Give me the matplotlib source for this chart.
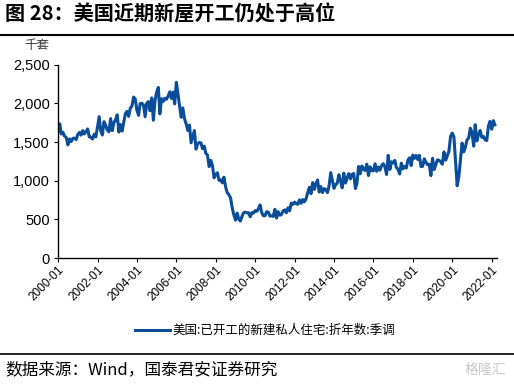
import numpy as np
import pandas as pd
import matplotlib
matplotlib.use("Agg")
import matplotlib.pyplot as plt
import matplotlib.dates as mdates
from matplotlib.lines import Line2D

plt.rcParams['font.family'] = ['Liberation Sans', 'Noto Sans CJK SC', 'DejaVu Sans']

# monthly housing starts, thousand units (SAAR)
starts_2000 = [1636, 1737, 1604, 1626, 1575, 1559, 1463, 1541, 1507, 1549, 1551, 1532]
starts_2001 = [1600, 1625, 1590, 1649, 1605, 1636, 1670, 1567, 1562, 1540, 1602, 1568]
starts_2002 = [1698, 1829, 1642, 1592, 1764, 1717, 1655, 1633, 1804, 1648, 1753, 1788]
starts_2003 = [1853, 1629, 1726, 1643, 1751, 1867, 1897, 1833, 1939, 1967, 2083, 2057]
starts_2004 = [1911, 1846, 1998, 2003, 1981, 1828, 2002, 2024, 1905, 2072, 1782, 2042]
starts_2005 = [2144, 2207, 1864, 2061, 2025, 2068, 2054, 2095, 2151, 2065, 2147, 1994]
starts_2006 = [2273, 2119, 1969, 1821, 1942, 1802, 1737, 1650, 1720, 1491, 1570, 1649]
starts_2007 = [1409, 1480, 1495, 1490, 1415, 1448, 1354, 1330, 1183, 1264, 1197, 1037]
starts_2008 = [1084, 1103, 1005, 1013, 973, 1046, 923, 844, 820, 777, 652, 560]
starts_2009 = [490, 582, 505, 478, 540, 585, 594, 586, 585, 534, 588, 581]
starts_2010 = [614, 604, 636, 687, 588, 549, 546, 599, 594, 543, 545, 539]
starts_2011 = [630, 517, 600, 554, 561, 608, 623, 585, 650, 610, 711, 694]
starts_2012 = [723, 704, 695, 753, 708, 757, 728, 768, 847, 915, 833, 976]
starts_2013 = [888, 962, 1010, 854, 925, 847, 898, 883, 847, 936, 1105, 1003]
starts_2014 = [902, 949, 968, 1077, 1001, 907, 1098, 970, 1036, 1092, 1024, 1084]
starts_2015 = [1093, 899, 962, 1184, 1090, 1191, 1147, 1134, 1215, 1067, 1180, 1130]
starts_2016 = [1128, 1219, 1122, 1177, 1136, 1197, 1221, 1182, 1080, 1329, 1146, 1245]
starts_2017 = [1230, 1263, 1172, 1148, 1087, 1227, 1154, 1185, 1163, 1266, 1298, 1197]
starts_2018 = [1332, 1290, 1327, 1276, 1329, 1183, 1186, 1284, 1237, 1209, 1212, 1066]
starts_2019 = [1291, 1145, 1203, 1270, 1265, 1244, 1213, 1373, 1266, 1323, 1383, 1573]
starts_2020 = [1617, 1567, 1269, 934, 1046, 1272, 1487, 1373, 1437, 1530, 1552, 1680]
starts_2021 = [1625, 1447, 1725, 1514, 1594, 1650, 1562, 1573, 1530, 1520, 1706, 1768]
starts_2022 = [1666, 1777, 1724]

values = (starts_2000 + starts_2001 + starts_2002 + starts_2003 + starts_2004 + starts_2005
          + starts_2006 + starts_2007 + starts_2008 + starts_2009 + starts_2010 + starts_2011
          + starts_2012 + starts_2013 + starts_2014 + starts_2015 + starts_2016 + starts_2017
          + starts_2018 + starts_2019 + starts_2020 + starts_2021 + starts_2022)
dates = pd.date_range("2000-01-01", periods=len(values), freq="MS")

series_name = "美国:已开工的新建私人住宅:折年数:季调"
title = "图 28：美国近期新屋开工仍处于高位"
source = "数据来源：Wind，国泰君安证券研究"
line_color = "#0A4E9B"

fig = plt.figure(figsize=(5.14, 3.88), dpi=100)
ax = fig.add_axes([0.113, 0.335, 0.854, 0.498])

ax.plot(dates, values, color=line_color, lw=2.2)

ax.set_ylim(0, 2500)
ax.set_yticks([0, 500, 1000, 1500, 2000, 2500])
ax.yaxis.set_major_formatter(matplotlib.ticker.FuncFormatter(lambda v, p: f"{int(v):,}"))
ax.set_xlim(pd.Timestamp("2000-01-01"), pd.Timestamp("2022-04-10"))
ax.set_xticks([pd.Timestamp(f"{y}-01-01") for y in range(2000, 2023, 2)])
ax.xaxis.set_major_formatter(mdates.DateFormatter("%Y-%m"))

for s in ["top", "right"]:
    ax.spines[s].set_visible(False)
for s in ["left", "bottom"]:
    ax.spines[s].set_linewidth(1.0)
    ax.spines[s].set_color("black")

ax.tick_params(axis="y", labelsize=10.5, length=3, direction="out", pad=3)
ax.tick_params(axis="x", labelsize=8.5, length=3, direction="out", pad=1)
for lbl in ax.get_xticklabels():
    lbl.set_rotation(45)
    lbl.set_ha("right")
    lbl.set_rotation_mode("anchor")

fig.text(0.047, 0.875, "千套", fontsize=9, color="#333333", family=['Noto Sans CJK SC'])

# legend
handle = Line2D([0], [0], color=line_color, lw=2.2)
fig.legend([handle], [series_name], loc="center", bbox_to_anchor=(0.515, 0.148),
           frameon=False, handlelength=2.8, handletextpad=0.2,
           prop={'family': ['Noto Sans CJK SC'], 'size': 9})

# title and frame lines
fig.text(0.01, 0.963, title, fontsize=14.5, fontweight="bold", va="center",
         family=['Noto Sans CJK SC', 'DejaVu Sans'])
fig.add_artist(Line2D([0, 1], [1 - 35 / 388] * 2, color="black", lw=1.5))
fig.add_artist(Line2D([0, 1], [1 - 354 / 388] * 2, color="black", lw=1.2))
fig.text(0.01, 0.046, source, fontsize=12, va="center",
         family=['Noto Sans CJK SC', 'DejaVu Sans'])
fig.text(0.985, 0.046, "格隆汇", fontsize=10, va="center", ha="right", color="#c8c8c8",
         family=['Noto Sans CJK SC'])

fig.savefig("out.png", dpi=100)
